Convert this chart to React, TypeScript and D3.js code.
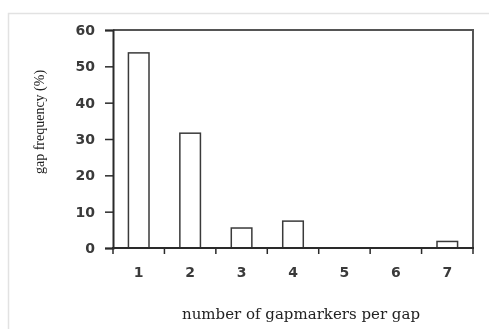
import * as d3 from 'd3';
import { useRef, useEffect } from 'react';

const categories = ['1', '2', '3', '4', '5', '6', '7'];
const frequencies = [53.7, 31.6, 5.5, 7.4, 0, 0, 1.8];
const yTicks = [0, 10, 20, 30, 40, 50, 60];
const xTitle = 'number of gapmarkers per gap';
const yTitle = 'gap frequency (%)';

const App = () => {
  const svgRef = useRef<SVGSVGElement>(null);

  useEffect(() => {
    const svg = d3.select(svgRef.current);
    const width = 489;
    const height = 329;
    const margin = { top: 30, right: 16, bottom: 81, left: 113 };

    svg.attr('width', width).attr('height', height);
    svg.selectAll('*').remove();

    // light outer frame
    svg.append('path')
      .attr('d', `M8.5,${height}V13.5H${width}`)
      .attr('fill', 'none')
      .attr('stroke', '#e2e2e2')
      .attr('stroke-width', 1.5);

    const x = d3.scaleBand()
      .domain(categories)
      .range([margin.left, width - margin.right])
      .paddingInner(0.6)
      .paddingOuter(0.3);

    const y = d3.scaleLinear()
      .domain([0, 60])
      .range([height - margin.bottom, margin.top]);

    const step = x.step();
    const offset = step * 0.3;

    // bars
    svg.selectAll('rect.bar')
      .data(frequencies.map((v, i) => ({ c: categories[i], v })).filter(d => d.v > 0))
      .enter().append('rect')
      .attr('class', 'bar')
      .attr('x', d => x(d.c)!)
      .attr('y', d => y(d.v))
      .attr('width', x.bandwidth())
      .attr('height', d => y(0) - y(d.v))
      .attr('fill', '#fff')
      .attr('stroke', '#3a3a3a')
      .attr('stroke-width', 1.5);

    // frame top and right
    svg.append('path')
      .attr('d', `M${margin.left},${y(60)}H${width - margin.right}V${y(0)}`)
      .attr('fill', 'none')
      .attr('stroke', '#555')
      .attr('stroke-width', 2);

    // y axis
    const yAxisG = svg.append('g')
      .attr('transform', `translate(${margin.left},0)`)
      .call(d3.axisLeft(y).tickValues(yTicks).tickSize(8).tickPadding(10));
    yAxisG.select('.domain').attr('stroke', '#2a2a2a').attr('stroke-width', 2);
    yAxisG.selectAll('.tick line').attr('stroke', '#2a2a2a').attr('stroke-width', 1.5);
    yAxisG.selectAll('text')
      .style('font-family', 'DejaVu Sans')
      .style('font-weight', 'bold')
      .style('font-size', '14px')
      .attr('fill', '#3a3a3a');

    // x axis boundary ticks
    const bounds = categories.map(c => x(c)! - offset).concat([x(categories[categories.length - 1])! - offset + step]);
    svg.append('g')
      .selectAll('line')
      .data(bounds)
      .enter().append('line')
      .attr('x1', d => d)
      .attr('x2', d => d)
      .attr('y1', y(0))
      .attr('y2', y(0) + 6)
      .attr('stroke', '#2a2a2a')
      .attr('stroke-width', 1.5);

    svg.append('line')
      .attr('x1', margin.left - 1)
      .attr('x2', width - margin.right + 1)
      .attr('y1', y(0))
      .attr('y2', y(0))
      .attr('stroke', '#2a2a2a')
      .attr('stroke-width', 2);

    // x tick labels
    const xAxisG = svg.append('g')
      .attr('transform', `translate(0,${y(0)})`)
      .call(d3.axisBottom(x).tickSize(0).tickPadding(19));
    xAxisG.select('.domain').remove();
    xAxisG.selectAll('text')
      .style('font-family', 'DejaVu Sans')
      .style('font-weight', 'bold')
      .style('font-size', '14px')
      .attr('fill', '#3a3a3a');

    svg.append('text')
      .attr('x', 301)
      .attr('y', 319)
      .attr('text-anchor', 'middle')
      .style('font-family', 'DejaVu Serif')
      .style('font-size', '15px')
      .attr('fill', '#222')
      .text(xTitle);

    svg.append('text')
      .attr('transform', `translate(44,122) rotate(-90)`)
      .attr('text-anchor', 'middle')
      .style('font-family', 'Liberation Serif')
      .style('font-size', '14px')
      .attr('fill', '#222')
      .text(yTitle);
  }, []);

  return (
    <div style={{ position: 'fixed', left: 0, top: 0 }}>
      <svg ref={svgRef} style={{ display: 'block' }}></svg>
    </div>
  );
};

export default App;
